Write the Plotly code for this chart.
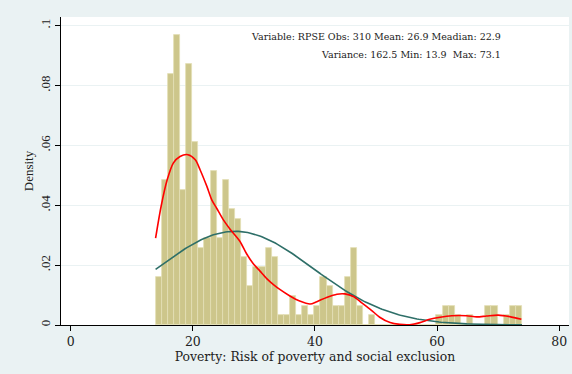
import numpy as np
import plotly.graph_objects as go

# ---- data ----
N_OBS = 310
BIN_START = 13.9
BIN_WIDTH = 1.0
counts = [5, 15, 26, 30, 14, 27, 19, 8, 9, 16,
          9, 15, 12, 11, 7, 4, 6, 6, 8, 7,
          1, 1, 3, 1, 2, 1, 2, 5, 4, 2,
          2, 5, 8, 2, 0, 1, 0, 0, 0, 0,
          0, 0, 0, 0, 0, 0, 1, 2, 2, 1,
          0, 1, 0, 0, 2, 2, 0, 1, 2, 2]

kde_x = [13.9, 14.8, 15.8, 16.8, 17.9, 19.2, 20.4, 21.2, 22.3, 23.1,
         23.9, 25.0, 26.1, 27.7, 28.8, 29.9, 31.0, 32.1, 33.2, 34.3,
         35.9, 37.5, 39.2, 40.3, 41.9, 43.6, 44.9, 46.3, 47.6, 49.2,
         50.6, 52.3, 53.9, 55.5, 57.2, 58.8, 60.5, 62.4, 64.8, 66.5,
         68.1, 70.0, 71.9, 73.8]
kde_y = [0.0290, 0.0396, 0.0485, 0.0541, 0.0563, 0.0569, 0.0552, 0.0518, 0.0463, 0.0418,
         0.0390, 0.0351, 0.0320, 0.0280, 0.0238, 0.0205, 0.0180, 0.0155, 0.0135, 0.0118,
         0.0097, 0.0080, 0.0070, 0.0078, 0.0092, 0.0103, 0.0104, 0.0095, 0.0075, 0.0050,
         0.0026, 0.0008, 0.0002, 0.0001, 0.0008, 0.0019, 0.0026, 0.0031, 0.0031, 0.0027,
         0.0030, 0.0033, 0.0028, 0.0019]

MEAN = 26.9
VARIANCE = 162.5
MIN_V = 13.9
MAX_V = 73.1
MEDIAN = 22.9

x_ticks = [0, 20, 40, 60, 80]
y_ticks = [0, 0.02, 0.04, 0.06, 0.08, 0.1]
y_tick_labels = ["0", ".02", ".04", ".06", ".08", ".1"]

# ---- derived ----
centers = [BIN_START + BIN_WIDTH * (i + 0.5) for i in range(len(counts))]
density = [c / (N_OBS * BIN_WIDTH) for c in counts]
sd = np.sqrt(VARIANCE)
nx = np.linspace(BIN_START, BIN_START + BIN_WIDTH * len(counts), 200)
ny = np.exp(-0.5 * ((nx - MEAN) / sd) ** 2) / (sd * np.sqrt(2 * np.pi))

SERIF = "Liberation Serif"
SERIF2 = "DejaVu Serif"
BG = "#eaf2f3"

fig = go.Figure()
fig.add_trace(go.Bar(x=centers, y=density, width=BIN_WIDTH,
                     marker=dict(color="#cdc68b", line=dict(color="#e2deb5", width=0.8)),
                     showlegend=False, hoverinfo="skip"))
fig.add_trace(go.Scatter(x=nx, y=ny, mode="lines",
                         line=dict(color="#2e6f68", width=1.6), showlegend=False))
fig.add_trace(go.Scatter(x=kde_x, y=kde_y, mode="lines",
                         line=dict(color="#ff0000", width=1.6, shape="spline", smoothing=0.8),
                         showlegend=False))

fig.update_layout(
    width=572, height=374,
    margin=dict(l=61, r=3, t=17, b=49),
    paper_bgcolor=BG, plot_bgcolor="white",
    bargap=0,
    font=dict(family=SERIF, color="#222"),
)
fig.update_xaxes(range=[-1.59, 81.6], tickvals=x_ticks, ticks="outside", ticklen=5,
                 tickcolor="black", showline=True, linecolor="black", linewidth=1,
                 showgrid=False, zeroline=False,
                 tickfont=dict(family=SERIF2, size=12.5, color="#222"),
                 title=dict(text="Poverty: Risk of poverty and social exclusion",
                            font=dict(family=SERIF2, size=12.4, color="#222"), standoff=0))
fig.update_yaxes(range=[0, 0.1029], tickvals=y_ticks, ticktext=y_tick_labels,
                 tickangle=-90, ticks="outside", ticklen=5, tickcolor="black",
                 showline=True, linecolor="black", linewidth=1,
                 showgrid=True, gridcolor=BG, gridwidth=1, zeroline=False,
                 tickfont=dict(family=SERIF, size=13, color="#222"),
                 title=dict(text="Density", font=dict(family=SERIF, size=13, color="#222"),
                            standoff=1))

line1 = f"Variable: RPSE Obs: {N_OBS} Mean: {MEAN} Meadian: {MEDIAN}"
line2 = f"Variance: {VARIANCE} Min: {MIN_V}  Max: {MAX_V}"
for txt, yp in [(line1, 36.7), (line2, 55)]:
    fig.add_annotation(text=txt, xref="paper", yref="paper",
                       x=(503 - 61) / (569 - 61), y=1 - (yp - 17) / (325 - 17),
                       xanchor="right", yanchor="middle", showarrow=False,
                       font=dict(family=SERIF2, size=9.5, color="#222"))

fig.write_html("out.html")
